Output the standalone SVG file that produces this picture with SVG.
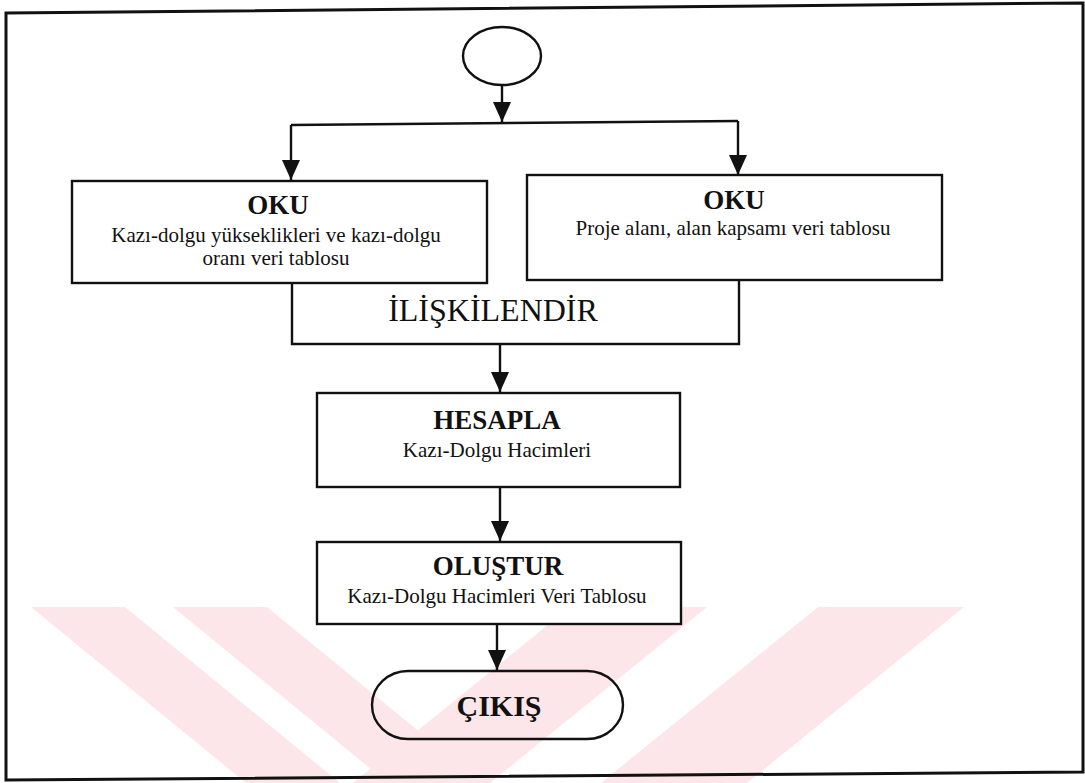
<svg xmlns="http://www.w3.org/2000/svg" width="1085" height="783" viewBox="0 0 1085 783">
<style>
.ln{fill:none;stroke:#111;stroke-width:2.4;}
.box{fill:#fff;stroke:#111;stroke-width:2.4;}
.open{fill:none;stroke:#111;stroke-width:2.4;}
.wm{fill:#fde6e9;}
.t{font-family:"Liberation Serif","Times New Roman",serif;fill:#111;text-anchor:middle;}
.h{font-weight:bold;font-size:27px;}
.s{font-size:21px;}
</style>
<defs>
<marker id="ah" viewBox="0 0 20 18" refX="20" refY="9" markerWidth="20" markerHeight="18" orient="auto" markerUnits="userSpaceOnUse">
<path d="M0,0 L20,9 L0,18 z" fill="#111"/>
</marker>
<clipPath id="wmclip"><rect x="0" y="607" width="1085" height="176"/></clipPath>
</defs>
<rect width="1085" height="783" fill="#fff"/>
<g id="watermark" clip-path="url(#wmclip)">
<polygon class="wm" points="31,607 125,607 340,783 246,783"/>
<polygon class="wm" points="173,607 267,607 482,783 388,783"/>
<polygon class="wm" points="570,607 707,607 490,783 353,783"/>
<polygon class="wm" points="818,607 964,607 747,783 601,783"/>
</g>
<polygon id="frame" points="6,13 1083,3 1083,772 6,780" fill="none" stroke="#111" stroke-width="3"/>
<g id="connectors">
<path class="ln" d="M502,84 V122" marker-end="url(#ah)"/>
<path class="ln" d="M291,125 L738,121"/>
<path class="ln" d="M291,125 V180" marker-end="url(#ah)"/>
<path class="ln" d="M738,121 V175" marker-end="url(#ah)"/>
<path class="ln" d="M500,344 V392" marker-end="url(#ah)"/>
<path class="ln" d="M500,487 V541" marker-end="url(#ah)"/>
<path class="ln" d="M497,625 V670" marker-end="url(#ah)"/>
</g>
<g id="start">
<ellipse cx="502" cy="56" rx="39" ry="29" fill="#fff" stroke="#111" stroke-width="2.4"/>
</g>
<g id="oku-left">
<rect class="box" x="72" y="181" width="415" height="102"/>
<text class="t h" x="278" y="214">OKU</text>
<text class="t s" x="276" y="242">Kazı-dolgu yükseklikleri ve kazı-dolgu</text>
<text class="t s" x="276" y="265">oranı veri tablosu</text>
</g>
<g id="oku-right">
<rect class="box" x="527" y="175" width="415" height="105"/>
<text class="t h" x="734" y="209">OKU</text>
<text class="t s" x="733" y="235">Proje alanı, alan kapsamı veri tablosu</text>
</g>
<g id="iliskilendir">
<path class="open" d="M292,283 V344 H739 V280"/>
<text class="t" x="493" y="321" font-size="32">İLİŞKİLENDİR</text>
</g>
<g id="hesapla">
<rect class="box" x="317" y="393" width="363" height="94"/>
<text class="t h" x="497" y="429">HESAPLA</text>
<text class="t s" x="497" y="457">Kazı-Dolgu Hacimleri</text>
</g>
<g id="olustur">
<rect class="box" x="317" y="542" width="364" height="82"/>
<text class="t h" x="498" y="575">OLUŞTUR</text>
<text class="t s" x="497" y="603">Kazı-Dolgu Hacimleri Veri Tablosu</text>
</g>
<g id="cikis">
<rect x="372" y="671" width="251" height="68" rx="36" ry="34" fill="none" stroke="#111" stroke-width="2.4"/>
<text class="t" x="499" y="716" font-weight="bold" font-size="30">ÇIKIŞ</text>
</g>
</svg>
